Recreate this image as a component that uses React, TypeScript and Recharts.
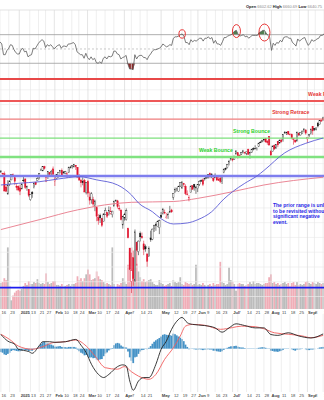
import React from "react";
import {
  ComposedChart,
  Bar,
  Line,
  Area,
  XAxis,
  YAxis,
  ReferenceLine,
  ReferenceDot,
} from "recharts";

const W = 324;
const FONT = "Arial, 'Liberation Sans', sans-serif";

// Trading sessions shown, Dec 16 2024 .. Sep 15 2025
const MONTHS: [string, number[]][] = [
  ["Dec", [16, 17, 18, 19, 20, 23, 24, 26, 27, 30, 31]],
  ["Jan", [2, 3, 6, 7, 8, 10, 13, 14, 15, 16, 17, 21, 22, 23, 24, 27, 28, 29, 30, 31]],
  ["Feb", [3, 4, 5, 6, 7, 10, 11, 12, 13, 14, 18, 19, 20, 21, 24, 25, 26, 27, 28]],
  ["Mar", [3, 4, 5, 6, 7, 10, 11, 12, 13, 14, 17, 18, 19, 20, 21, 24, 25, 26, 27, 28, 31]],
  ["Apr", [1, 2, 3, 4, 7, 8, 9, 10, 11, 14, 15, 16, 17, 21, 22, 23, 24, 25, 28, 29, 30]],
  ["May", [1, 2, 5, 6, 7, 8, 9, 12, 13, 14, 15, 16, 19, 20, 21, 22, 23, 27, 28, 29, 30]],
  ["Jun", [2, 3, 4, 5, 6, 9, 10, 11, 12, 13, 16, 17, 18, 20, 23, 24, 25, 26, 27, 30]],
  ["Jul", [1, 2, 3, 7, 8, 9, 10, 11, 14, 15, 16, 17, 18, 21, 22, 23, 24, 25, 28, 29, 30, 31]],
  ["Aug", [1, 4, 5, 6, 7, 8, 11, 12, 13, 14, 15, 18, 19, 20, 21, 22, 25, 26, 27, 28, 29]],
  ["Sep", [2, 3, 4, 5, 8, 9, 10, 11, 12, 15]],
];

// [open, high, low, close] per session
const CANDLES: number[][] = [
  [6063, 6085, 6059, 6074], [6052, 6057, 6035, 6051], [6048, 6070, 5867, 5872], [5912, 5935, 5866, 5867], [5843, 5982, 5832, 5931],
  [5941, 5979, 5922, 5974], [5984, 6041, 5983, 6040], [6025, 6050, 6018, 6038], [6006, 6007, 5932, 5971], [5920, 5941, 5879, 5907], [5920, 5929, 5869, 5882],
  [5904, 5935, 5830, 5869], [5892, 5950, 5892, 5942], [5983, 6021, 5961, 5975], [5994, 6001, 5891, 5909], [5910, 5927, 5874, 5918], [5890, 5891, 5809, 5827],
  [5783, 5839, 5773, 5836], [5859, 5871, 5803, 5843], [5905, 5961, 5898, 5950], [5962, 5964, 5931, 5937], [5977, 6012, 5976, 5997],
  [6014, 6052, 5990, 6049], [6082, 6100, 6077, 6086], [6076, 6119, 6074, 6119], [6121, 6128, 6089, 6101],
  [5970, 6017, 5962, 6012], [6026, 6070, 5994, 6068], [6058, 6063, 6019, 6039], [6057, 6087, 6032, 6071], [6097, 6121, 6030, 6041],
  [5970, 6023, 5923, 5995], [5998, 6042, 5991, 6038], [6021, 6062, 6007, 6061], [6072, 6084, 6051, 6084], [6083, 6101, 6020, 6026],
  [6047, 6074, 6046, 6066], [6050, 6076, 6042, 6069], [6026, 6063, 6004, 6052], [6060, 6117, 6054, 6115], [6115, 6128, 6101, 6115],
  [6122, 6130, 6099, 6130], [6117, 6147, 6111, 6144], [6134, 6135, 6086, 6118], [6114, 6115, 6008, 6013],
  [6027, 6044, 5977, 5983], [5983, 5993, 5909, 5955], [5970, 6010, 5930, 5956], [5981, 5994, 5858, 5862], [5857, 5960, 5837, 5955],
  [5969, 5986, 5810, 5850], [5811, 5865, 5733, 5778], [5782, 5860, 5743, 5843], [5785, 5813, 5711, 5739], [5726, 5784, 5667, 5770],
  [5705, 5705, 5565, 5615], [5603, 5636, 5529, 5572], [5624, 5642, 5547, 5599], [5594, 5598, 5505, 5522], [5563, 5645, 5563, 5639],
  [5635, 5703, 5632, 5675], [5654, 5654, 5597, 5615], [5633, 5716, 5622, 5675], [5646, 5711, 5633, 5663], [5630, 5670, 5603, 5668],
  [5718, 5775, 5718, 5768], [5776, 5786, 5765, 5777], [5772, 5782, 5694, 5712], [5696, 5732, 5670, 5693], [5679, 5685, 5573, 5581],
  [5527, 5621, 5489, 5612],
  [5598, 5651, 5571, 5633], [5581, 5695, 5571, 5671], [5492, 5500, 5390, 5397], [5292, 5292, 5069, 5074],
  [4953, 5246, 4835, 5062], [5193, 5267, 4910, 4983], [4966, 5481, 4948, 5457], [5353, 5353, 5115, 5268], [5255, 5369, 5220, 5363],
  [5441, 5460, 5359, 5406], [5411, 5450, 5386, 5397], [5335, 5367, 5220, 5276], [5305, 5328, 5255, 5283],
  [5233, 5233, 5102, 5158], [5207, 5309, 5207, 5288], [5395, 5469, 5356, 5376], [5381, 5489, 5372, 5485], [5490, 5528, 5456, 5525],
  [5529, 5553, 5468, 5529], [5508, 5572, 5505, 5561], [5499, 5581, 5434, 5569],
  [5625, 5659, 5597, 5604], [5646, 5700, 5632, 5687],
  [5655, 5683, 5636, 5650], [5606, 5649, 5590, 5607], [5621, 5654, 5589, 5631], [5663, 5721, 5648, 5664], [5679, 5691, 5649, 5660],
  [5808, 5845, 5782, 5844], [5854, 5907, 5853, 5887], [5885, 5906, 5867, 5893], [5870, 5925, 5867, 5917], [5922, 5958, 5914, 5958],
  [5902, 5969, 5895, 5964], [5945, 5954, 5915, 5940], [5921, 5939, 5830, 5845], [5842, 5878, 5827, 5842], [5781, 5830, 5767, 5803],
  [5855, 5925, 5855, 5922], [5925, 5930, 5886, 5889], [5939, 5944, 5875, 5912], [5903, 5922, 5843, 5912],
  [5897, 5938, 5862, 5936], [5939, 5981, 5922, 5970], [5979, 5990, 5967, 5971], [5985, 5999, 5922, 5939], [5988, 6007, 5978, 6000],
  [6004, 6022, 5994, 6006], [6010, 6044, 5998, 6039], [6049, 6060, 6002, 6022], [6010, 6050, 6003, 6045], [6001, 6026, 5963, 5977],
  [6005, 6051, 6004, 6033], [6013, 6024, 5975, 5983], [5987, 6019, 5974, 5981], [6004, 6018, 5952, 5968],
  [5970, 6028, 5943, 6025], [6062, 6101, 6052, 6092], [6104, 6109, 6081, 6092], [6109, 6146, 6101, 6141], [6151, 6188, 6132, 6173],
  [6193, 6215, 6180, 6205],
  [6187, 6211, 6173, 6198], [6192, 6227, 6187, 6227], [6247, 6285, 6246, 6279],
  [6260, 6263, 6201, 6230], [6233, 6243, 6216, 6226], [6245, 6269, 6237, 6263], [6264, 6290, 6253, 6280], [6256, 6270, 6244, 6260],
  [6255, 6272, 6237, 6269], [6295, 6302, 6242, 6244], [6255, 6270, 6201, 6264], [6264, 6300, 6258, 6297], [6305, 6315, 6285, 6297],
  [6305, 6336, 6303, 6306], [6307, 6310, 6283, 6310], [6326, 6360, 6318, 6359], [6368, 6381, 6361, 6363], [6371, 6390, 6368, 6389],
  [6397, 6402, 6375, 6390], [6409, 6410, 6362, 6371], [6377, 6389, 6342, 6363], [6428, 6428, 6332, 6339],
  [6272, 6288, 6212, 6238],
  [6272, 6330, 6272, 6330], [6336, 6345, 6289, 6299], [6309, 6347, 6301, 6345], [6375, 6380, 6317, 6340], [6359, 6395, 6355, 6389],
  [6390, 6403, 6363, 6373], [6397, 6446, 6373, 6446], [6463, 6481, 6455, 6467], [6453, 6474, 6441, 6469], [6478, 6482, 6442, 6450],
  [6446, 6459, 6438, 6449], [6447, 6456, 6397, 6411], [6406, 6410, 6343, 6396], [6389, 6394, 6361, 6370], [6380, 6477, 6375, 6467],
  [6458, 6467, 6438, 6439], [6441, 6467, 6436, 6466], [6455, 6484, 6455, 6481], [6484, 6508, 6469, 6502], [6493, 6495, 6444, 6460],
  [6401, 6417, 6360, 6416], [6437, 6452, 6419, 6448], [6456, 6502, 6446, 6502], [6529, 6533, 6443, 6482],
  [6508, 6511, 6482, 6495], [6498, 6513, 6487, 6513], [6559, 6573, 6518, 6532], [6546, 6592, 6545, 6587], [6589, 6600, 6578, 6584],
  [6594, 6626, 6587, 6615],
];

// volume, billions of shares
const VOLUME = [
  2.7, 2.8, 3.2, 3.0, 6.4, 2.4, 0.9, 1.4, 1.7, 1.9, 2.0,
  1.9, 2.1, 2.4, 2.7, 2.5, 2.9, 2.6, 2.6, 2.8, 2.7, 3.1, 2.7, 2.6, 2.7, 2.6, 3.7, 2.8, 2.6, 2.7, 2.9,
  2.9, 2.5, 2.5, 2.4, 2.6, 2.4, 2.4, 2.5, 2.6, 2.4, 2.6, 2.6, 2.7, 3.4, 3.0, 3.2, 2.9, 3.2, 3.6,
  4.1, 3.6, 3.0, 3.1, 3.2, 3.9, 3.4, 3.1, 3.0, 2.8, 2.6, 2.7, 2.6, 2.5, 6.4, 2.6, 2.2, 2.6, 2.5, 2.7, 3.2,
  2.8, 2.6, 4.6, 5.9, 6.4, 5.3, 6.2, 4.7, 3.9, 3.3, 2.9, 3.1, 2.8, 2.9, 3.0, 3.1, 2.8, 2.6, 2.5, 2.5, 3.0,
  2.7, 2.6, 2.4, 2.5, 2.6, 2.7, 2.4, 3.0, 2.8, 2.7, 2.8, 3.3, 2.6, 2.5, 2.8, 2.7, 2.6, 2.7, 2.5, 2.6, 4.6,
  2.5, 2.6, 2.5, 2.7, 2.5, 2.4, 2.5, 2.6, 2.4, 2.7, 2.5, 2.6, 2.6, 4.9, 2.8, 2.7, 2.5, 2.6, 4.3, 3.0,
  2.8, 2.6, 1.9, 2.6, 2.7, 2.6, 2.6, 2.4, 2.5, 2.6, 2.8, 2.6, 2.9, 2.6, 2.7, 2.7, 2.6, 2.5, 2.6, 2.7, 2.7, 3.3,
  3.6, 2.7, 2.8, 2.6, 2.7, 2.5, 2.6, 2.7, 2.8, 2.6, 2.7, 2.4, 2.7, 2.8, 2.5, 2.8, 2.5, 2.6, 2.5, 2.6, 2.8,
  2.9, 2.7, 2.6, 2.8, 2.7, 2.6, 2.8, 2.7, 2.6, 2.7,
];

// RSI(14)
const RSI = [
  60, 57, 42, 42, 48, 51, 56, 55, 49, 45, 43,
  43, 49, 51, 46, 47, 39, 41, 42, 51, 50, 54, 58, 61, 63, 61, 52, 56, 54, 56, 53,
  50, 53, 55, 56, 51, 54, 54, 53, 57, 57, 58, 59, 56, 46, 44, 42, 42, 37, 44,
  38, 35, 39, 35, 37, 31, 30, 32, 30, 37, 39, 36, 40, 39, 40, 47, 47, 43, 42, 36, 38,
  39, 41, 29, 22, 22, 21, 42, 36, 40, 41, 41, 38, 38, 35, 40, 43, 47, 49, 49, 50, 51,
  53, 57, 55, 53, 54, 56, 55, 65, 67, 67, 68, 70, 71, 68, 59, 59, 56, 63, 60, 62, 61,
  63, 65, 65, 61, 65, 65, 67, 64, 66, 58, 62, 57, 57, 55, 60, 66, 66, 68, 69, 70,
  72, 75, 76, 70, 68, 69, 70, 67, 68, 65, 67, 69, 69, 69, 69, 73, 74, 76, 76, 72, 69, 66,
  48, 58, 55, 59, 58, 62, 60, 66, 67, 67, 65, 65, 59, 57, 54, 64, 61, 63, 65, 66, 60,
  55, 58, 63, 61, 62, 64, 65, 69, 69, 71,
];

// MACD histogram
const MACD_HIST = [
  -12, -14, -20, -22, -18, -14, -8, -5, -6, -8, -9,
  -9, -6, -3, -5, -5, -8, -8, -7, -2, -1, 2, 10, 16, 22, 24, 18, 18, 15, 14, 11,
  7, 7, 8, 9, 6, 6, 5, 4, 6, 6, 6, 6, 4, -3, -9, -14, -17, -23, -22,
  -27, -31, -30, -33, -32, -38, -40, -37, -36, -26, -17, -13, -6, -2, 2, 12, 18, 20, 18, 11, 7,
  5, 4, -10, -30, -42, -50, -30, -28, -18, -10, -5, -4, -1, -2, 3, 9, 17, 24, 29, 33, 37,
  42, 48, 50, 48, 47, 47, 45, 52, 50, 46, 42, 38, 33, 26, 14, 6, -2, 1, -1, -2, -3,
  -3, -2, -3, -5, -3, -3, -2, -3, -3, -7, -7, -9, -10, -11, -9, -4, -1, 3, 6, 8,
  8, 9, 10, 7, 5, 4, 4, 2, 1, -1, -1, 1, 1, 1, 1, 3, 4, 5, 5, 3, 1, -1,
  -7, -8, -10, -10, -11, -9, -8, -4, -1, 1, 1, 0, -2, -5, -7, -3, -3, -2, -1, 0, -2,
  -5, -5, -3, -3, -2, 0, 1, 4, 5, 6,
];

const MACD_LINE: [string, number][] = [
  ["Dec 16", 49], ["Dec 20", 26], ["Dec 27", 15], ["Dec 31", -2], ["Jan 6", -6], ["Jan 10", -10], ["Jan 14", -16],
  ["Jan 21", 10], ["Jan 23", 24], ["Jan 29", 24], ["Feb 3", 22], ["Feb 11", 24], ["Feb 20", 32], ["Feb 25", 12],
  ["Feb 28", -14], ["Mar 5", -54], ["Mar 11", -89], ["Mar 14", -100], ["Mar 19", -89], ["Mar 26", -62], ["Mar 31", -56],
  ["Apr 2", -60], ["Apr 4", -112], ["Apr 8", -144], ["Apr 11", -112], ["Apr 16", -100], ["Apr 22", -100], ["Apr 28", -54],
  ["May 1", -2], ["May 6", 26], ["May 9", 67], ["May 14", 95], ["May 19", 108], ["May 22", 90], ["May 28", 84],
  ["Jun 6", 80], ["Jun 16", 72], ["Jun 23", 57], ["Jun 27", 72], ["Jul 3", 86], ["Jul 11", 80], ["Jul 21", 72],
  ["Jul 28", 72], ["Aug 1", 49], ["Aug 7", 46], ["Aug 15", 55], ["Aug 25", 44], ["Sep 4", 37], ["Sep 15", 51],
];

const MACD_SIGNAL: [string, number][] = [
  ["Dec 16", 50], ["Dec 23", 32], ["Dec 31", 9], ["Jan 14", -2], ["Jan 24", 9], ["Jan 31", 21], ["Feb 11", 24],
  ["Feb 20", 30], ["Feb 28", 9], ["Mar 7", -25], ["Mar 17", -66], ["Mar 26", -71], ["Apr 1", -62], ["Apr 7", -80],
  ["Apr 11", -95], ["Apr 22", -106], ["Apr 28", -89], ["May 5", -37], ["May 12", 3], ["May 16", 44], ["May 21", 78],
  ["May 28", 84], ["Jun 6", 81], ["Jun 20", 67], ["Jul 1", 73], ["Jul 9", 78], ["Jul 21", 76], ["Jul 28", 69],
  ["Aug 5", 55], ["Aug 15", 50], ["Aug 27", 44], ["Sep 4", 38], ["Sep 15", 46],
];

const MA50: [string, number][] = [
  ["Dec 16", 5933], ["Dec 31", 5950], ["Jan 21", 5966], ["Feb 5", 5994], ["Feb 24", 6017], ["Mar 10", 5985],
  ["Mar 26", 5933], ["Apr 7", 5831], ["Apr 11", 5750], ["Apr 24", 5661], ["May 1", 5590], ["May 12", 5537],
  ["May 22", 5547], ["Jun 2", 5580], ["Jun 12", 5661], ["Jun 24", 5790], ["Jul 1", 5865], ["Jul 11", 5950],
  ["Jul 22", 6024], ["Jul 28", 6080], ["Aug 13", 6260], ["Aug 29", 6356], ["Sep 15", 6410],
];

const MA200: [string, number][] = [
  ["Dec 16", 5480], ["Jan 21", 5580], ["Feb 21", 5680], ["Apr 7", 5757], ["May 12", 5765],
  ["Jun 2", 5797], ["Jul 1", 5865], ["Jul 28", 5933], ["Sep 15", 6012],
];

const GRID_PRICES = [4800, 4950, 5100, 5250, 5400, 5550, 5700, 5850, 6000, 6150, 6300, 6450, 6600, 6750, 6900];
const LEVELS = [7010, 6786, 6603, 6410, 6217, 6024, 4890];
const LEVEL_LABELS = ["", "Weak Retrace", "Strong Retrace", "Strong Bounce", "Weak Bounce", "", ""];
const RSI_MARKS: [string, number][] = [["May 19", 71], ["Jul 3", 75], ["Jul 28", 73]];

const TICKS: [string, string][] = [
  ["Dec 16", "16"], ["Dec 23", "23"], ["Jan 2", "2025"], ["Jan 13", "13"], ["Jan 21", "21"], ["Jan 27", "27"],
  ["Feb 3", "Feb"], ["Feb 10", "10"], ["Feb 18", "18"], ["Feb 24", "24"], ["Mar 3", "Mar"], ["Mar 10", "10"],
  ["Mar 17", "17"], ["Mar 24", "24"], ["Apr 1", "Apr"], ["Apr 7", "7"], ["Apr 14", "14"], ["Apr 21", "21"],
  ["May 1", "May"], ["May 12", "12"], ["May 19", "19"], ["May 27", "27"], ["Jun 2", "Jun"], ["Jun 9", "9"],
  ["Jun 16", "16"], ["Jun 23", "23"], ["Jul 1", "Jul"], ["Jul 7", "7"], ["Jul 14", "14"], ["Jul 21", "21"],
  ["Jul 28", "28"], ["Aug 1", "Aug"], ["Aug 11", "11"], ["Aug 18", "18"], ["Aug 25", "25"], ["Sep 2", "Sep"],
  ["Sep 8", "8"], ["Sep 15", "15"],
];

const NOTE = ["The prior range is unlikely", "to be revisited without a", "significant negative", "event."];
const HEADER: [string, string][] = [["Open", "6602.62"], ["High", "6660.69"], ["Low", "6640.75"]];

// ---- styles ----
const PRICE_DOMAIN = [4673, 7020];
const LEVEL_STYLE = [
  { stroke: "#e84848", w: 2.2, text: "#e53535", at: 0 },
  { stroke: "#ee5858", w: 2, text: "#e53535", at: 0.951 },
  { stroke: "#f28080", w: 1.2, text: "#e53535", at: 0.84 },
  { stroke: "#7ce07c", w: 1.2, text: "#2bd12b", at: 0.719 },
  { stroke: "#80e280", w: 2.6, text: "#2bd12b", at: 0.614 },
  { stroke: "#7e7eee", w: 2.4, text: "", at: 0 },
  { stroke: "#1c1cf0", w: 1.6, text: "", at: 0 },
];
const MARK_SIZE = [
  { rx: 3.2, ry: 4.2 },
  { rx: 4, ry: 6.5 },
  { rx: 5.5, ry: 8.5 },
];

// ---- table ----
const keys: string[] = [];
MONTHS.forEach(([m, days]) => days.forEach((d) => keys.push(`${m} ${d}`)));
const macdMap = new Map(MACD_LINE);
const signalMap = new Map(MACD_SIGNAL);
const ma50Map = new Map(MA50);
const ma200Map = new Map(MA200);
const tickLabel = new Map(TICKS);
const tickKeys = TICKS.map((t) => t[0]);

const rows = keys.map((key, i) => {
  const [o, h, l, c] = CANDLES[i];
  const prev = i > 0 ? CANDLES[i - 1][3] : o;
  const r = RSI[i];
  return {
    key,
    o,
    h,
    l,
    c,
    hl: [l, h],
    down: c < prev,
    vol: VOLUME[i],
    rsi: r,
    rsiHi: [70, Math.max(70, r)],
    rsiLo: [Math.min(30, r), 30],
    hist: MACD_HIST[i],
    macd: macdMap.get(key) ?? null,
    signal: signalMap.get(key) ?? null,
    ma50: ma50Map.get(key) ?? null,
    ma200: ma200Map.get(key) ?? null,
  };
});

const isMajor = (lab: string) => lab === "2025" || isNaN(Number(lab));

function AxisTick(props: any) {
  const { x, y, payload } = props;
  const lab = tickLabel.get(payload.value) ?? "";
  return (
    <text x={x + 0.6} y={y + 4} fontSize={4.2} fill="#444" fontWeight={isMajor(lab) ? 700 : 400} fontFamily={FONT}>
      {lab}
    </text>
  );
}

function Candle(props: any) {
  const { x, y, width, height, payload } = props;
  if (payload == null || height == null) return null;
  const top = Math.min(y, y + height);
  const bot = Math.max(y, y + height);
  const span = payload.h - payload.l || 1;
  const yOf = (v: number) => top + ((payload.h - v) / span) * (bot - top);
  const cx = x + width / 2;
  const yo = yOf(payload.o);
  const yc = yOf(payload.c);
  const color = payload.down ? "#e0142e" : "#151515";
  const hollow = payload.c > payload.o;
  return (
    <g>
      <line x1={cx} x2={cx} y1={top} y2={bot} stroke={color} strokeWidth={0.55} />
      <rect
        x={cx - 0.7}
        y={Math.min(yo, yc)}
        width={1.4}
        height={Math.max(0.7, Math.abs(yc - yo))}
        fill={hollow ? "#ffffff" : color}
        stroke={color}
        strokeWidth={0.35}
      />
    </g>
  );
}

function VolumeBar(props: any) {
  const { x, y, width, height, payload } = props;
  if (!height) return null;
  const cx = x + width / 2;
  return (
    <rect
      x={cx - 0.88}
      y={Math.min(y, y + height)}
      width={1.76}
      height={Math.abs(height)}
      fill={payload.down ? "#f0adb7" : "#bcbcbc"}
    />
  );
}

function HistBar(props: any) {
  const { x, y, width, height } = props;
  if (!height) return null;
  const cx = x + width / 2;
  return <rect x={cx - 0.88} y={Math.min(y, y + height)} width={1.76} height={Math.abs(height)} fill="#4592c6" />;
}

function LevelLabel(props: any) {
  const { viewBox, text, color, at } = props;
  if (!viewBox || !text) return null;
  return (
    <text x={viewBox.x + viewBox.width * at} y={viewBox.y - 4.6} fontSize={5.2} fontWeight={700} fill={color} fontFamily={FONT}>
      {text}
    </text>
  );
}

const vLines = (axisProps: any = {}) =>
  TICKS.map(([k, lab]) => (
    <ReferenceLine
      key={"v" + k}
      x={k}
      stroke={isMajor(lab) ? "#d9d9d9" : "#e8e8e8"}
      strokeWidth={0.7}
      {...axisProps}
    />
  ));

export default function App() {
  return (
    <div style={{ position: "fixed", left: 0, top: 0, width: W, height: 400, background: "#fff", overflow: "hidden" }}>
      {/* RSI panel */}
      <div style={{ position: "absolute", left: 0, top: 0 }}>
        <ComposedChart width={W} height={80} data={rows} margin={{ top: 10, right: 0, bottom: 1, left: 0 }}>
          <XAxis dataKey="key" hide />
          <YAxis hide domain={[8, 104.5]} allowDataOverflow />
          {vLines()}
          <ReferenceLine y={104.5} stroke="#dcdcdc" strokeWidth={0.8} />
          <ReferenceLine y={70} stroke="#9c9c9c" strokeWidth={0.8} />
          <ReferenceLine y={50} stroke="#b4b4b4" strokeWidth={0.7} strokeDasharray="2 2" />
          <ReferenceLine y={30} stroke="#9c9c9c" strokeWidth={0.8} />
          <Area dataKey="rsiHi" type="linear" fill="#4f7e4f" fillOpacity={1} stroke="none" isAnimationActive={false} />
          <Area dataKey="rsiLo" type="linear" fill="#8c2a2a" fillOpacity={1} stroke="none" isAnimationActive={false} />
          <Line dataKey="rsi" type="linear" stroke="#5a5a5a" strokeWidth={0.8} dot={false} isAnimationActive={false} />
          {RSI_MARKS.map(([k, v], i) => (
            <ReferenceDot
              key={k}
              x={k}
              y={v}
              shape={(p: any) => (
                <ellipse cx={p.cx} cy={p.cy} rx={MARK_SIZE[i].rx} ry={MARK_SIZE[i].ry} fill="none" stroke="#e52020" strokeWidth={0.9} />
              )}
            />
          ))}
        </ComposedChart>
      </div>

      {/* MACD panel */}
      <div style={{ position: "absolute", left: 0, top: 312 }}>
        <ComposedChart width={W} height={88} data={rows} margin={{ top: 2, right: 0, bottom: 0, left: 0 }} barCategoryGap="20%">
          <XAxis
            dataKey="key"
            ticks={tickKeys}
            interval={0}
            tick={(p: any) => <AxisTick {...p} />}
            tickLine={false}
            axisLine={false}
            tickSize={0}
            tickMargin={1}
            height={8}
          />
          <YAxis hide domain={[-150, 120]} allowDataOverflow />
          {vLines()}
          <Bar dataKey="hist" shape={HistBar} isAnimationActive={false} />
          <Line dataKey="signal" type="monotone" connectNulls stroke="#f25c5c" strokeWidth={0.9} dot={false} isAnimationActive={false} />
          <Line dataKey="macd" type="monotone" connectNulls stroke="#262626" strokeWidth={0.9} dot={false} isAnimationActive={false} />
        </ComposedChart>
      </div>

      {/* volume + grid (back layer) */}
      <div style={{ position: "absolute", left: 0, top: 78 }}>
        <ComposedChart width={W} height={240} data={rows} margin={{ top: 0, right: 0, bottom: 0, left: 0 }} barCategoryGap="20%">
          <XAxis
            dataKey="key"
            ticks={tickKeys}
            interval={0}
            tick={(p: any) => <AxisTick {...p} />}
            tickLine={false}
            axisLine={false}
            tickSize={0}
            tickMargin={1}
            height={9}
          />
          <YAxis yAxisId="p" hide domain={PRICE_DOMAIN} allowDataOverflow />
          <YAxis yAxisId="v" hide domain={[0, 24]} allowDataOverflow />
          {GRID_PRICES.map((g) => (
            <ReferenceLine key={"g" + g} yAxisId="p" y={g} stroke="#ececec" strokeWidth={0.7} />
          ))}
          {vLines({ yAxisId: "p" })}
          <Bar yAxisId="v" dataKey="vol" shape={VolumeBar} isAnimationActive={false} />
        </ComposedChart>
      </div>

      {/* price layer */}
      <div style={{ position: "absolute", left: 0, top: 78 }}>
        <ComposedChart width={W} height={240} data={rows} margin={{ top: 0, right: 0, bottom: 0, left: 0 }} barCategoryGap="20%">
          <XAxis dataKey="key" height={9} tick={false} tickLine={false} axisLine={false} />
          <YAxis hide domain={PRICE_DOMAIN} allowDataOverflow />
          {LEVELS.map((v, i) => (
            <ReferenceLine
              key={"l" + v}
              y={v}
              stroke={LEVEL_STYLE[i].stroke}
              strokeWidth={LEVEL_STYLE[i].w}
              label={<LevelLabel text={LEVEL_LABELS[i]} color={LEVEL_STYLE[i].text} at={LEVEL_STYLE[i].at} />}
            />
          ))}
          <Line dataKey="ma200" type="monotone" connectNulls stroke="#e8798a" strokeWidth={0.9} dot={false} isAnimationActive={false} />
          <Line dataKey="ma50" type="monotone" connectNulls stroke="#5c5cd6" strokeWidth={0.9} dot={false} isAnimationActive={false} />
          <Bar dataKey="hl" shape={Candle} isAnimationActive={false} />
        </ComposedChart>
      </div>

      {/* header + annotation text */}
      <svg width={W} height={400} style={{ position: "absolute", left: 0, top: 0, pointerEvents: "none" }}>
        <text x={322} y={8} textAnchor="end" fontSize={4} fontFamily={FONT}>
          {HEADER.map(([k, v]) => (
            <React.Fragment key={k}>
              <tspan fontWeight={700} fill="#222">{k}</tspan>
              <tspan fill="#8a8a8a">{" " + v + "  "}</tspan>
            </React.Fragment>
          ))}
        </text>
        <text fontSize={5} fontWeight={700} fill="#2626e6" fontFamily={FONT}>
          {NOTE.map((t, i) => (
            <tspan key={i} x={273} y={207 + i * 5.5}>
              {t}
            </tspan>
          ))}
        </text>
      </svg>
    </div>
  );
}
